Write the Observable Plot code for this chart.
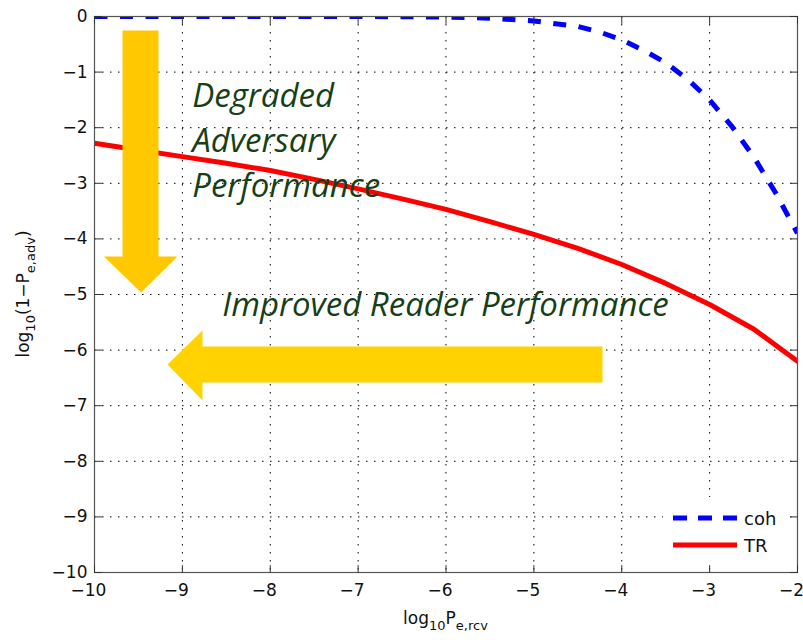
<!DOCTYPE html>
<html>
<head>
<meta charset="utf-8">
<script src="https://cdn.jsdelivr.net/npm/d3@7"></script>
<script src="https://cdn.jsdelivr.net/npm/@observablehq/plot@0.6"></script>
<style>
  body { margin: 0; background: #fff; }
  #chart { width: 803px; height: 640px; }
</style>
</head>
<body>
<div id="chart"></div>
<script>
// Axis ticks
const xTicks = [-10, -9, -8, -7, -6, -5, -4, -3, -2];
const yTicks = [0, -1, -2, -3, -4, -5, -6, -7, -8, -9, -10];

// coh: coherent receiver
const cohX = [-10, -9, -8, -7, -6.5, -6, -5.5, -5, -4.5, -4.25, -4, -3.75, -3.5, -3.25, -3, -2.75, -2.5, -2.25, -2];
const cohY = [0, 0, 0, 0, -0.005, -0.01, -0.03, -0.08, -0.18, -0.28, -0.42, -0.61, -0.83, -1.13, -1.50, -1.97, -2.52, -3.17, -3.90];

// TR: transmitted-reference receiver
const trX = [-10, -9.5, -9, -8.5, -8, -7.5, -7, -6.5, -6, -5.5, -5, -4.5, -4, -3.5, -3, -2.5, -2];
const trY = [-2.28, -2.40, -2.52, -2.64, -2.77, -2.93, -3.10, -3.28, -3.47, -3.69, -3.92, -4.17, -4.46, -4.80, -5.18, -5.62, -6.20];

// Block-arrow outlines (data units)
const downArrowX = [-9.681, -9.272, -9.272, -9.056, -9.471, -9.892, -9.681];
const downArrowY = [-0.252, -0.252, -4.317, -4.317, -4.964, -4.317, -4.317];
const leftArrowX = [-4.219, -4.219, -8.771, -8.771, -9.169, -8.771, -8.771];
const leftArrowY = [-5.935, -6.583, -6.583, -6.906, -6.259, -5.647, -5.935];

// Annotation text
const noteText = ["Degraded", "Adversary", "Performance", "Improved Reader Performance"];
const noteX = [-8.888, -8.888, -8.888, -8.547];
const noteY = [-1.631, -2.440, -3.250, -5.378];

const seriesNames = ["coh", "TR"];

const zip = (xs, ys) => xs.map((x, i) => ({x, y: ys[i]}));
const coh = zip(cohX, cohY);
const tr = zip(trX, trY);
const downArrow = zip(downArrowX, downArrowY);
const leftArrow = zip(leftArrowX, leftArrowY);
const notes = noteText.map((t, i) => ({t, x: noteX[i], y: noteY[i]}));

const inner = (t, lo, hi) => t.filter(v => v > lo && v < hi);
const fmt = d => (d < 0 ? "\u2212" : "") + Math.abs(d);
const gridStyle = {stroke: "#000", strokeOpacity: 1, strokeWidth: 1, strokeDasharray: "1.5,6.5"};

// Plain tick stroke for the inward-pointing box ticks
const tickShape = {draw(context, l) { context.moveTo(0, 0); context.lineTo(0, -l); }};
const tickMark = (data, opts) => Plot.vector(data, {length: 7, anchor: "start", shape: tickShape, stroke: "#333", strokeWidth: 1, ...opts});

const plot = Plot.plot({
  width: 803,
  height: 640,
  marginLeft: 94,
  marginRight: 6,
  marginTop: 16,
  marginBottom: 68,
  style: {fontFamily: "'DejaVu Sans', sans-serif", fontSize: "17px", color: "#111", background: "#fff"},
  x: {domain: [-10, -2]},
  y: {domain: [-10, 0]},
  marks: [
    Plot.gridX(inner(xTicks, -10, -2), gridStyle),
    Plot.gridY(inner(yTicks, -10, 0), gridStyle),
    Plot.line(coh, {x: "x", y: "y", stroke: "#0000ff", strokeWidth: 5, strokeDasharray: "13,12.5", strokeLinecap: "butt", clip: true}),
    Plot.line(tr, {x: "x", y: "y", stroke: "#ff0000", strokeWidth: 5, strokeLinejoin: "round", clip: true}),
    Plot.line(downArrow, {x: "x", y: "y", fill: "#ffc800", stroke: "none", curve: "linear-closed"}),
    Plot.line(leftArrow, {x: "x", y: "y", fill: "#ffd200", stroke: "none", curve: "linear-closed"}),
    Plot.text(notes, {x: "x", y: "y", text: "t", textAnchor: "start", lineAnchor: "bottom",
      fontFamily: "'Open Sans', sans-serif", fontStyle: "italic", fontSize: 33, fill: "#173f17"}),
    Plot.frame({stroke: "#555", strokeWidth: 1.2}),
    Plot.axisX(xTicks, {anchor: "bottom", tickSize: 0, tickPadding: 11, dx: -6, label: null, fill: "#111", tickFormat: fmt}),
    Plot.axisY(yTicks, {anchor: "left", tickSize: 0, tickPadding: 7, label: null, fill: "#111", tickFormat: fmt})
  ]
});

document.getElementById("chart").appendChild(plot);

// Axis titles with subscripts, legend and box ticks, drawn into the same SVG
const svg = d3.select(plot);
const xs = plot.scale("x"), ys = plot.scale("y");
const [xl, xr] = xs.range, [yb, yt] = ys.range;
const font = "'DejaVu Sans', sans-serif";

function subLabel(g, parts) {
  parts.forEach(([txt, sub]) => {
    g.append("tspan").attr("baseline-shift", sub ? "-0.45em" : null)
      .attr("font-size", sub ? "13px" : null).text(txt);
  });
}

const xt = svg.append("text")
  .attr("x", (xl + xr) / 2).attr("y", yb + 52)
  .attr("text-anchor", "middle").attr("font-family", font).attr("font-size", "17px").attr("fill", "#111");
subLabel(xt, [["log", false], ["10", true], ["P", false], ["e,rcv", true]]);

const yl = svg.append("text")
  .attr("transform", `translate(${xl - 65},${(yb + yt) / 2}) rotate(-90)`)
  .attr("text-anchor", "middle").attr("font-family", font).attr("font-size", "17px").attr("fill", "#111");
subLabel(yl, [["log", false], ["10", true], ["(1\u2212P", false], ["e,adv", true], [")", false]]);

// Legend box in the lower-right corner
const lg = svg.append("g").attr("transform", `translate(${xr - 134},${yb - 75})`);
lg.append("rect").attr("width", 125).attr("height", 67).attr("fill", "#fff");
const legendStyles = [
  {stroke: "#0000ff", dash: "14,11"},
  {stroke: "#ff0000", dash: null}
];
seriesNames.forEach((name, i) => {
  const y = 21 + i * 27;
  lg.append("line").attr("x1", 10).attr("x2", 74).attr("y1", y).attr("y2", y)
    .attr("stroke", legendStyles[i].stroke).attr("stroke-width", 5)
    .attr("stroke-dasharray", legendStyles[i].dash);
  lg.append("text").attr("x", 81).attr("y", y + 7).attr("text-anchor", "start").attr("font-family", font)
    .attr("font-size", "18px").attr("fill", "#111").text(name);
});

// Inward ticks on all four sides of the box, on top of the legend
const ticks = Plot.plot({
  width: 803, height: 640, marginLeft: 94, marginRight: 6, marginTop: 16, marginBottom: 68,
  x: {domain: [-10, -2]}, y: {domain: [-10, 0]},
  marks: [
    tickMark(xTicks, {x: d => d, y: -10, rotate: 0}),
    tickMark(xTicks, {x: d => d, y: 0, rotate: 180}),
    tickMark(yTicks, {x: -10, y: d => d, rotate: 90}),
    tickMark(yTicks, {x: -2, y: d => d, rotate: -90})
  ]
});
d3.select(ticks).selectAll("g[aria-label='vector']").each(function () { plot.appendChild(this); });
</script>
</body>
</html>
